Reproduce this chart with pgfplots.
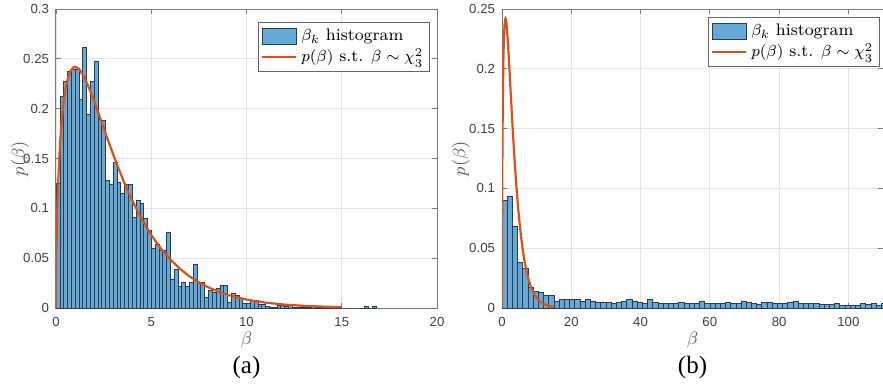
\documentclass[border=0pt]{standalone}
\usepackage{fontspec}
\usepackage{pgfplots}
\pgfplotsset{compat=1.18}
\newfontfamily\ticksf{Liberation Sans}
\newfontfamily\capfont{Liberation Serif}
\definecolor{barfill}{RGB}{102,168,214}
\definecolor{baredge}{RGB}{45,60,75}
\definecolor{curve}{RGB}{217,83,25}
\definecolor{gridc}{RGB}{228,228,228}
\definecolor{axc}{RGB}{120,120,120}

\pgfplotsset{
  myax/.style={
    scale only axis, width=190.5pt, height=149.5pt,
    clip mode=individual,
    axis line style={axc, line width=0.5pt},
    tick style={axc, line width=0.4pt},
    tick align=inside, major tick length=2.5pt,
    grid=major, major grid style={gridc, line width=0.4pt},
    ticklabel style={font=\ticksf\fontsize{6.6}{7}\selectfont, text=black!75},
    xticklabel style={yshift=-1pt},
    ymin=0,
    xlabel={$\beta$}, ylabel={$p(\beta)$},
    label style={font=\fontsize{9}{10}\selectfont, text=black!65},
    xlabel style={at={(axis description cs:0.5,0)}, anchor=center, yshift=-16pt},
    legend style={draw=black!60, line width=0.5pt, fill=white,
      font=\fontsize{8.4}{10}\selectfont, inner sep=1.2pt,
      row sep=-1.5pt, cells={anchor=west}, anchor=north east},
    legend cell align=left,
  },
  histleg/.style={legend image code/.code={\draw[#1] (0pt,-4.2pt) rectangle (17pt,4.2pt);}},
  lineleg/.style={legend image code/.code={\draw[#1] (0pt,0pt) -- (17pt,0pt);}},
}

\begin{document}
\begin{tikzpicture}
\path[use as bounding box] (-28pt,-39.5pt) rectangle (413.5pt,154pt);

% ---------------- (a) ----------------
\begin{axis}[myax,
  xmin=0, xmax=20, ymax=0.3,
  xtick={0,5,10,15,20}, xticklabels={0,5,10,15,20},
  ytick={0,0.05,0.1,0.15,0.2,0.25,0.3},
  yticklabels={0,0.05,0.1,0.15,0.2,0.25,0.3},
  ylabel style={at={(axis description cs:-0.095,0.5)}, anchor=center},
  legend style={at={(1,1)}, xshift=-3.5pt, yshift=-6.5pt},
]
\addplot[ybar interval, fill=barfill, draw=baredge, line width=0.3pt, histleg] coordinates {
(0.0,0.125) (0.2,0.212) (0.4,0.227) (0.6,0.238) (0.8,0.240) (1.0,0.240)
(1.2,0.209) (1.4,0.262) (1.6,0.194) (1.8,0.227) (2.0,0.248) (2.2,0.189)
(2.4,0.188) (2.6,0.128) (2.8,0.124) (3.0,0.146) (3.2,0.126) (3.4,0.115)
(3.6,0.124) (3.8,0.124) (4.0,0.091) (4.2,0.108) (4.4,0.105) (4.6,0.090)
(4.8,0.078) (5.0,0.060) (5.2,0.064) (5.4,0.058) (5.6,0.058) (5.8,0.076)
(6.0,0.029) (6.2,0.039) (6.4,0.022) (6.6,0.026) (6.8,0.022) (7.0,0.026)
(7.2,0.044) (7.4,0.026) (7.6,0.026) (7.8,0.011) (8.0,0.018) (8.2,0.016)
(8.4,0.020) (8.6,0.023) (8.8,0.023) (9.0,0.006) (9.2,0.015) (9.4,0.013)
(9.6,0.010) (9.8,0.005) (10.0,0.005) (10.2,0.008) (10.4,0.008) (10.6,0.004)
(10.8,0.004) (11.0,0.002) (11.2,0.001) (11.4,0.001) (11.6,0.003) (11.8,0.003)
(12.0,0.002) (12.2,0.003) (12.4,0.001) (12.6,0.001) (12.8,0.0005) (13.0,0.0005)
(13.2,0.0005) (13.4,0.002) (13.6,0.0005) (13.8,0.0005) (14.0,0.0005) (14.2,0.0005)
(14.4,0.0005) (14.6,0.0005) (14.8,0.002) (15.0,0) (15.2,0) (15.4,0) (15.6,0)
(15.8,0) (16.0,0) (16.2,0.002) (16.4,0) (16.6,0.002) (16.8,0)
};
\addlegendentry{$\beta_k$ histogram}
\addplot[curve, line width=1.1pt, lineleg] coordinates {
(0,0) (0.01,0.0397) (0.02,0.0559) (0.05,0.0870) (0.1,0.1200) (0.2,0.1614)
(0.3,0.1881) (0.4,0.2066) (0.5,0.2197) (0.6,0.2289) (0.75,0.2375) (0.9,0.2413)
(1.0,0.2420) (1.1,0.2414) (1.25,0.2388) (1.5,0.2308) (1.75,0.2200) (2.0,0.2076)
(2.25,0.1943) (2.5,0.1807) (2.75,0.1672) (3.0,0.1542) (3.25,0.1416) (3.5,0.1297)
(3.75,0.1185) (4.0,0.1080) (4.5,0.0892) (5.0,0.0732) (5.5,0.0598) (6.0,0.0487)
(6.5,0.0394) (7.0,0.0319) (7.5,0.0257) (8.0,0.0207) (8.5,0.0166) (9.0,0.0133)
(9.5,0.0106) (10,0.0085) (11,0.0054) (12,0.0034) (13,0.0022) (14,0.0014) (15,0.00085)
};
\addlegendentry{$p(\beta)$ s.t. $\beta\sim\chi^2_3$}
\node[font=\capfont\fontsize{12.5}{14}\selectfont] at (axis description cs:0.5,0) [yshift=-29.5pt] {(a)};
\end{axis}

% ---------------- (b) ----------------
\begin{axis}[myax, xshift=223pt,
  xmin=0, xmax=110, ymax=0.25,
  xtick={0,20,40,60,80,100}, xticklabels={0,20,40,60,80,100},
  ytick={0,0.05,0.1,0.15,0.2,0.25},
  yticklabels={0,0.05,0.1,0.15,0.2,0.25},
  ylabel style={at={(axis description cs:-0.108,0.5)}, anchor=center},
  legend style={at={(1,1)}, xshift=-1.5pt, yshift=-4pt},
]
\addplot[ybar interval, fill=barfill, draw=baredge, line width=0.3pt, histleg] coordinates {
(0,0.090) (1.5,0.093) (3,0.068) (4.5,0.038) (6,0.033) (7.5,0.017)
(9,0.014) (10.5,0.013) (12,0.011) (13.5,0.011) (15,0.006) (16.5,0.007)
(18,0.007) (19.5,0.007) (21,0.007) (22.5,0.006) (24,0.007) (25.5,0.006)
(27,0.005) (28.5,0.005) (30,0.005) (31.5,0.004) (33,0.005) (34.5,0.006)
(36,0.007) (37.5,0.006) (39,0.005) (40.5,0.004) (42,0.007) (43.5,0.005)
(45,0.004) (46.5,0.004) (48,0.004) (49.5,0.004) (51,0.005) (52.5,0.004)
(54,0.004) (55.5,0.004) (57,0.006) (58.5,0.004) (60,0.004) (61.5,0.004)
(63,0.004) (64.5,0.005) (66,0.004) (67.5,0.004) (69,0.006) (70.5,0.005)
(72,0.004) (73.5,0.003) (75,0.005) (76.5,0.005) (78,0.004) (79.5,0.004)
(81,0.004) (82.5,0.005) (84,0.006) (85.5,0.004) (87,0.004) (88.5,0.004)
(90,0.004) (91.5,0.003) (93,0.003) (94.5,0.003) (96,0.004) (97.5,0.002)
(99,0.002) (100.5,0.002) (102,0.002) (103.5,0.004) (105,0.003) (106.5,0.004)
(108,0.002) (109.5,0.004) (111,0)
};
\addlegendentry{$\beta_k$ histogram}
\addplot[curve, line width=1.1pt, lineleg] coordinates {
(0,0) (0.01,0.0397) (0.02,0.0559) (0.05,0.0870) (0.1,0.1200) (0.2,0.1614)
(0.3,0.1881) (0.4,0.2066) (0.5,0.2197) (0.6,0.2289) (0.75,0.2375) (0.9,0.2413)
(1.0,0.2420) (1.1,0.2414) (1.25,0.2388) (1.5,0.2308) (1.75,0.2200) (2.0,0.2076)
(2.25,0.1943) (2.5,0.1807) (2.75,0.1672) (3.0,0.1542) (3.25,0.1416) (3.5,0.1297)
(3.75,0.1185) (4.0,0.1080) (4.5,0.0892) (5.0,0.0732) (5.5,0.0598) (6.0,0.0487)
(6.5,0.0394) (7.0,0.0319) (7.5,0.0257) (8.0,0.0207) (8.5,0.0166) (9.0,0.0133)
(9.5,0.0106) (10,0.0085) (11,0.0054) (12,0.0034) (13,0.0022) (14,0.0014) (15,0.00085)
};
\addlegendentry{$p(\beta)$ s.t. $\beta\sim\chi^2_3$}
\node[font=\capfont\fontsize{12.5}{14}\selectfont] at (axis description cs:0.5,0) [yshift=-29.5pt] {(b)};
\end{axis}
\end{tikzpicture}
\end{document}
